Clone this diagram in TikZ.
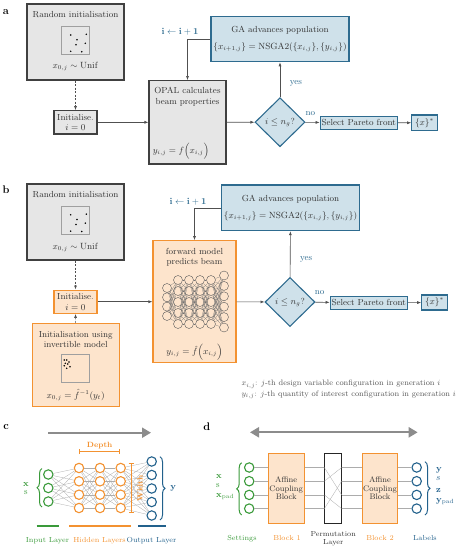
\documentclass[tikz,border=0pt]{standalone}
\usepackage{amsmath}
\usetikzlibrary{arrows.meta, shapes.geometric, decorations.pathreplacing}

\definecolor{boxgray}{HTML}{E6E6E6}
\definecolor{boxline}{HTML}{404040}
\definecolor{gafill}{HTML}{CFE1EA}
\definecolor{galine}{HTML}{2E6B8F}
\definecolor{nnfill}{HTML}{FDE4CC}
\definecolor{nnline}{HTML}{F39231}
\definecolor{setgreen}{HTML}{3A9A3A}
\definecolor{labblue}{HTML}{22618C}
\definecolor{arrowgray}{HTML}{8C8C8C}
\definecolor{linegray}{HTML}{505050}
\definecolor{textgray}{HTML}{333333}

\tikzset{
  graybox/.style={rectangle, draw=boxline, fill=boxgray, line width=1.1pt, inner sep=1pt},
  bluebox/.style={rectangle, draw=galine, fill=gafill, line width=1.1pt, inner sep=1pt},
  orangebox/.style={rectangle, draw=nnline, fill=nnfill, line width=1.1pt, inner sep=1pt},
  scatterbox/.style={rectangle, draw=gray!75, line width=0.6pt, minimum width=28pt, minimum height=28pt},
  flow/.style={draw=linegray, line width=0.6pt, -{Latex[length=4pt, width=3pt]}},
  dashflow/.style={flow, dash pattern=on 2pt off 1.5pt},
  flowlabel/.style={text=galine, inner sep=1pt},
  panellabel/.style={text=black, font=\bfseries\fontsize{11}{12}\selectfont},
  sublabel/.style={font=\fontsize{7.3}{8.8}\selectfont, inner sep=1pt},
  legendtext/.style={text=black!65, font=\fontsize{7.9}{10.5}\selectfont, align=left},
  neuron/.style={circle, line width=1.1pt, minimum size=9.4pt, inner sep=0pt, fill=white},
  tinyneuron/.style={circle, draw=black!65, line width=0.4pt, minimum size=9pt, inner sep=0pt},
  wire/.style={draw=gray!65, line width=0.3pt},
  thinwire/.style={draw=black!55, line width=0.2pt},
  bigarrow/.style={draw=arrowgray, line width=2.2pt},
  curlybrace/.style={decorate, decoration={brace, amplitude=5pt}, line width=1pt},
  bracket/.style={line width=1pt, {Bar[width=5pt]}-{Bar[width=5pt]}},
}

\begin{document}
\begin{tikzpicture}[x=1pt, y=-1pt, font=\fontsize{8.8}{10.5}\selectfont, text=textgray]
  \useasboundingbox (0, 0) rectangle (462, 550);

  % ---------------- a ----------------
  \node (label-a) [panellabel] at (6, 11.7) {a};
  % Nodes
  \node (rand-a) [graybox, minimum width=97pt, minimum height=76pt] at (75.5, 42) {};
  \node (rand-a-title) at (75.5, 14.5) {Random initialisation};
  \node (rand-a-scatter) [scatterbox] at (75.2, 40.2) {};
  \foreach \dx/\dy in {-4.5/-5.2, 11.1/-5.9, 1.8/-0.5, 10.1/3.1, 0.8/4.5, -4.5/11.1, 6.5/11.5}
    \fill[black, shift={(rand-a-scatter.center)}] (\dx, \dy) circle (0.85pt);
  \node (rand-a-f) at (75.5, 66.7) {$x_{0,j}\sim\mathrm{Unif}$};
  \node (init-a) [graybox, minimum width=43pt, minimum height=23.3pt, align=center] at (75.5, 122.3) {Initialise.\\$i=0$};
  \node (opal) [graybox, minimum width=77pt, minimum height=83.4pt] at (187.5, 122.3) {};
  \node (opal-title) [align=center] at (187.5, 96.5) {OPAL calculates\\beam properties};
  \node (opal-f) at (181, 151.5) {$y_{i,j}=f\Big(x_{i,j}\Big)$};
  \node (ga-a) [bluebox, minimum width=138pt, minimum height=45pt, align=center] at (280, 39.2) {GA advances population\\[7pt]$\{x_{i+1,j}\}=\mathrm{NSGA2}(\{x_{i,j}\},\{y_{i,j}\})$};
  \node (cond-a) [bluebox, diamond, minimum width=50pt, minimum height=49pt, inner sep=0pt] at (280, 122.2) {$i\le n_g$?};
  \node (pareto-a) [bluebox, minimum width=77pt, minimum height=13.3pt, inner sep=0.5pt] at (358.7, 122.7) {Select Pareto front};
  \node (xstar-a) [bluebox, minimum width=25.6pt, minimum height=15.6pt] at (424.5, 122.8) {$\{x\}^*$};
  % Arrow
  \draw[dashflow] (rand-a) to (init-a);
  \draw[flow] (init-a) to (opal);
  \draw[flow] (opal) to (cond-a);
  \draw[flow] (cond-a) to node[flowlabel, pos=0.35, above=6pt] {no} (pareto-a);
  \draw[flow] (pareto-a) to (xstar-a);
  \draw[flow] (cond-a) to node[flowlabel, pos=0.4, right=8.5pt] {yes} (ga-a);
  \draw[flow] (ga-a.west) -| node[flowlabel, pos=0.5, xshift=-7.5pt, yshift=7pt] {$\mathbf{i\leftarrow i+1}$} (opal.north);

  % ---------------- b ----------------
  \node (label-b) [panellabel] at (6, 190) {b};
  % Nodes
  \node (rand-b) [graybox, minimum width=97pt, minimum height=76pt] at (75.5, 222) {};
  \node (rand-b-title) at (75.5, 194.3) {Random initialisation};
  \node (rand-b-scatter) [scatterbox] at (75.2, 220) {};
  \foreach \dx/\dy in {-4.5/-5.2, 11.1/-5.9, 1.8/-0.5, 10.1/3.1, 0.8/4.5, -4.5/11.1, 6.5/11.5}
    \fill[black, shift={(rand-b-scatter.center)}] (\dx, \dy) circle (0.85pt);
  \node (rand-b-f) at (75.5, 247.7) {$x_{0,j}\sim\mathrm{Unif}$};
  \node (init-b) [orangebox, minimum width=43pt, minimum height=23.3pt, align=center] at (75.5, 301.7) {Initialise.\\$i=0$};
  \node (inv) [orangebox, minimum width=86.7pt, minimum height=83.4pt] at (75.7, 365) {};
  \node (inv-title) [align=center] at (75.7, 339.3) {Initialisation using\\invertible model};
  \node (inv-scatter) [scatterbox] at (75.2, 368) {};
  \foreach \dx/\dy in {-10.9/-8, -8.5/-8, -6.2/-6, -9.9/-4.7, -7.5/-4, -5.2/-1.3, -8.5/0.3, -10.9/-2.3}
    \fill[black, shift={(inv-scatter.center)}] (\dx, \dy) circle (0.85pt);
  \node (inv-f) at (75.7, 395) {$x_{0,j}=\hat{f}^{-1}(y_t)$};
  \node (fwd) [orangebox, minimum width=83pt, minimum height=122pt] at (194.5, 301.7) {};
  \node (fwd-title) [align=center] at (194.5, 257) {forward model\\predicts beam};
  \node (fwd-f) at (194.5, 352.7) {$y_{i,j}=\hat{f}\Big(x_{i,j}\Big)$};
  % forward network
  \foreach \y [count=\r] in {288, 297.3, 306.6, 316}
    \node (fwd-1-\r) [tinyneuron] at (167, \y) {};
  \foreach \x [count=\c from 2] in {178, 189, 200, 211}
    \foreach \y [count=\r] in {280, 291, 302, 313, 324}
      \node (fwd-\c-\r) [tinyneuron] at (\x, \y) {};
  \foreach \y [count=\r] in {275.5, 285.9, 296.3, 306.7, 317.1, 327.5}
    \node (fwd-6-\r) [tinyneuron] at (224, \y) {};
  \foreach \i in {1,...,4}
    \foreach \j in {1,...,5}
      \draw[thinwire] (fwd-1-\i) -- (fwd-2-\j);
  \foreach \c/\n in {2/3, 3/4, 4/5}
    \foreach \i in {1,...,5}
      \foreach \j in {1,...,5}
        \draw[thinwire] (fwd-\c-\i) -- (fwd-\n-\j);
  \foreach \i in {1,...,5}
    \foreach \j in {1,...,6}
      \draw[thinwire] (fwd-5-\i) -- (fwd-6-\j);
  \node (ga-b) [bluebox, minimum width=137.6pt, minimum height=45.7pt, align=center] at (290.5, 207.8) {GA advances population\\[7pt]$\{x_{i+1,j}\}=\mathrm{NSGA2}(\{x_{i,j}\},\{y_{i,j}\})$};
  \node (cond-b) [bluebox, diamond, minimum width=50pt, minimum height=49pt, inner sep=0pt] at (290, 302) {$i\le n_g$?};
  \node (pareto-b) [bluebox, minimum width=77pt, minimum height=13.3pt, inner sep=0.5pt] at (368.7, 302.7) {Select Pareto front};
  \node (xstar-b) [bluebox, minimum width=25.6pt, minimum height=15pt] at (434.5, 302.5) {$\{x\}^*$};
  \node (legend) [legendtext, anchor=west] at (238, 389.5) {$x_{i,j}$: $j$-th design variable configuration in generation $i$\\$y_{i,j}$: $j$-th quantity of interest configuration in generation $i$};
  % Arrow
  \draw[dashflow] (rand-b) to (init-b);
  \draw[dashflow] (inv) to (init-b);
  \draw[flow] (init-b) to (fwd);
  \draw[flow] (fwd) to (cond-b);
  \draw[flow] (cond-b) to node[flowlabel, pos=0.3, above=6pt] {no} (pareto-b);
  \draw[flow] (pareto-b) to (xstar-b);
  \draw[flow] (cond-b) to node[flowlabel, pos=0.39, right=8.5pt] {yes} (ga-b);
  \draw[flow] (ga-b.west) -| node[flowlabel, pos=0.5, xshift=-6.5pt, yshift=6.5pt] {$\mathbf{i\leftarrow i+1}$} (fwd.north);

  % ---------------- c ----------------
  \node (label-c) [panellabel] at (6, 426.7) {c};
  \coordinate (c-from) at (48, 432.7);
  \coordinate (c-to) at (151, 432.7);
  \draw[bigarrow, -{Triangle[length=9pt, width=10pt]}] (c-from) -- (c-to);
  % Nodes
  \foreach \y [count=\r] in {474.5, 488, 501.5}
    \node (in-\r) [neuron, draw=setgreen] at (48.3, \y) {};
  \foreach \x [count=\c] in {79, 100, 120.7}
    \foreach \y [count=\r] in {468, 481.3, 494.7, 508}
      \node (h\c-\r) [neuron, draw=nnline] at (\x, \y) {};
  \foreach \y [count=\r] in {461.5, 475, 488.5, 502, 515.5}
    \node (out-\r) [neuron, draw=labblue] at (151.7, \y) {};
  % Wires
  \foreach \i in {1,...,3}
    \foreach \j in {1,...,4}
      \draw[wire] (in-\i) -- (h1-\j);
  \foreach \c/\n in {1/2, 2/3}
    \foreach \i in {1,...,4}
      \foreach \j in {1,...,4}
        \draw[wire] (h\c-\i) -- (h\n-\j);
  \foreach \i in {1,...,4}
    \foreach \j in {1,...,5}
      \draw[wire] (h3-\i) -- (out-\j);
  % Header
  \draw[bracket, draw=nnline] (79.3, 451.7) -- node[sublabel, above=1pt, text=nnline, font=\bfseries\fontsize{7.6}{9}\selectfont] {Depth} (120, 451.7);
  \draw[bracket, draw=nnline] (131, 463.3) -- (131, 513.3);
  \node (width-label) [sublabel, rotate=90, text=nnline, font=\bfseries\fontsize{7.6}{9}\selectfont] at (140, 488.3) {Width};
  \draw[curlybrace, draw=setgreen] (42, 507) -- (42, 468.5);
  \node (c-x) [text=setgreen] at (26, 484.3) {$\mathbf{x}$};
  \node (c-s) [text=setgreen] at (26, 492.3) {s};
  \draw[curlybrace, draw=labblue] (160, 456.7) -- (160, 520);
  \node (c-y) [text=labblue] at (173.3, 488.3) {$\mathbf{y}$};
  \draw[setgreen, line width=1.7pt] (36.7, 525.7) -- (59.3, 525.7);
  \draw[nnline, line width=1.7pt] (69, 525.7) -- (130.7, 525.7);
  \draw[labblue, line width=1.7pt] (138, 525.7) -- (165.7, 525.7);
  \node (input-label) [sublabel, text=setgreen] at (47.5, 541) {Input Layer};
  \node (hidden-label) [sublabel, text=nnline] at (99.5, 541) {Hidden Layers};
  \node (output-label) [sublabel, text=labblue] at (151.5, 541) {Output Layer};

  % ---------------- d ----------------
  \node (label-d) [panellabel] at (206.7, 426.7) {d};
  \coordinate (d-from) at (250, 432.3);
  \coordinate (d-to) at (417.7, 432.3);
  \draw[bigarrow, {Triangle[length=9pt, width=10pt]}-{Triangle[length=9pt, width=10pt]}] (d-from) -- (d-to);
  % Nodes
  \node (block1) [orangebox, minimum width=35.7pt, minimum height=70pt, align=center, font=\fontsize{8}{8.6}\selectfont] at (286.2, 488.3) {Affine\\Coupling\\Block};
  \node (perm) [rectangle, draw=black!85, fill=white, line width=1.5pt, minimum width=17.4pt, minimum height=70pt] at (333, 488.3) {};
  \node (block2) [orangebox, minimum width=35.7pt, minimum height=70pt, align=center, font=\fontsize{8}{8.6}\selectfont] at (380, 488.3) {Affine\\Coupling\\Block};
  \foreach \y [count=\r] in {467.5, 481.2, 494.9, 508.6} {
    \node (set-\r) [neuron, draw=setgreen] at (249.2, \y) {};
    \node (lab-\r) [neuron, draw=labblue] at (416.7, \y) {};
  }
  % Wires
  \foreach \i in {1,...,4} {
    \draw[wire] (set-\i) -- (set-\i -| block1.west);
    \draw[wire] (block1.east |- set-\i) -- (perm.west |- set-\i);
    \draw[wire] (perm.east |- set-\i) -- (block2.west |- set-\i);
    \draw[wire] (block2.east |- set-\i) -- (lab-\i);
  }
  \foreach \i/\p in {1/3, 2/1, 3/4, 4/2}
    \draw[wire] ([xshift=0.8pt]perm.west |- set-\i) -- ([xshift=-0.8pt]perm.east |- set-\p);
  % Header
  \draw[curlybrace, draw=setgreen] (241.7, 515) -- (241.7, 462.7);
  \node (d-x) [text=setgreen, anchor=west, inner sep=1pt] at (215, 476.7) {$\mathbf{x}$};
  \node (d-s) [text=setgreen, anchor=west, inner sep=1pt] at (215, 486) {s};
  \node (d-xpad) [text=setgreen, anchor=west, inner sep=1pt] at (215, 497) {$\mathbf{x}_{\mathrm{pad}}$};
  \draw[curlybrace, draw=labblue] (425, 461.7) -- (425, 515);
  \node (d-y) [text=labblue, anchor=west, inner sep=1pt] at (435, 470) {$\mathbf{y}$};
  \node (d-s2) [text=labblue, anchor=west, inner sep=1pt] at (435, 479) {$s$};
  \node (d-z) [text=labblue, anchor=west, inner sep=1pt] at (435, 490) {$\mathbf{z}$};
  \node (d-ypad) [text=labblue, anchor=west, inner sep=1pt] at (435, 501.7) {$\mathbf{y}_{\mathrm{pad}}$};
  \node (settings-label) [sublabel, text=setgreen] at (242, 538.3) {Settings};
  \node (block1-label) [sublabel, text=nnline] at (287, 538.3) {Block 1};
  \node (perm-label) [sublabel, text=textgray, align=center] at (333.3, 538.7) {Permutation\\Layer};
  \node (block2-label) [sublabel, text=nnline] at (380, 538.3) {Block 2};
  \node (labels-label) [sublabel, text=labblue] at (425, 538.3) {Labels};
\end{tikzpicture}
\end{document}
